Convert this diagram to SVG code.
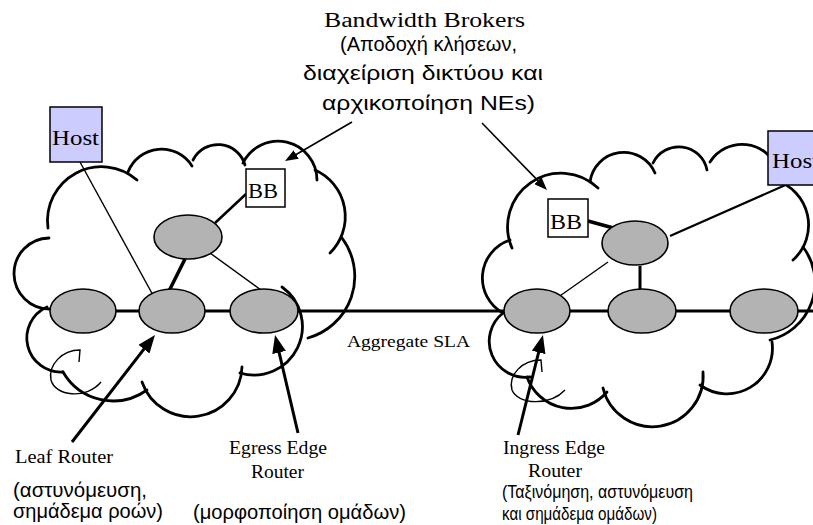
<svg xmlns="http://www.w3.org/2000/svg" width="813" height="525" viewBox="0 0 813 525">
<defs>
<style>
.cloud{fill:none;stroke:#000;stroke-width:2.8;stroke-linecap:round}
.curl{fill:none;stroke:#000;stroke-width:1.4}
.router{fill:#b3b3b3;stroke:#000;stroke-width:1.6}
.host{fill:#ccccff;stroke:#000;stroke-width:1.5}
.bb{fill:#fff;stroke:#000;stroke-width:1.5}
.ln{stroke:#000;fill:none}
.thin{stroke-width:1.4}
.thick{stroke-width:3}
.serif{font-family:"Liberation Serif","Times New Roman",serif;fill:#000}
.sans{font-family:"Liberation Sans",Arial,sans-serif;fill:#000}
</style>
<marker id="ahThin" viewBox="0 0 13 10" refX="8" refY="5" markerWidth="13" markerHeight="10" markerUnits="userSpaceOnUse" orient="auto">
<path d="M0,0 L13,5 L0,10 z" fill="#000"/>
</marker>
<marker id="ahThick" viewBox="0 0 18 14" refX="12" refY="7" markerWidth="18" markerHeight="14" markerUnits="userSpaceOnUse" orient="auto">
<path d="M0,0 L18,7 L0,14 z" fill="#000"/>
</marker>
</defs>
<rect width="813" height="525" fill="#fff"/>

<g id="cloud-left">
<path class="cloud" d="M50,309 A35,35 0 0,1 49,238"/>
<path class="cloud" d="M48,228 A54,54 0 0,1 137,180"/>
<path class="cloud" d="M128,172 A36,36 0 0,1 192,166"/>
<path class="cloud" d="M193,160 A28,28 0 0,1 245,165"/>
<path class="cloud" d="M243,163 A39,39 0 0,1 317,180"/>
<path class="cloud" d="M315,170 A51,51 0 0,1 330,253"/>
<path class="cloud" d="M342,238 A64,64 0 0,1 308,338"/>
<path class="cloud" d="M282,287 A48.5,48.5 0 0,1 240,373"/>
<path class="cloud" d="M242,367 A51.4,51.4 0 0,1 142,382"/>
<path class="cloud" d="M147,390 A58,58 0 0,1 63,372"/>
<path class="cloud" d="M63,372 A34,34 0 0,1 47,307"/>
<path class="curl" d="M79,362 L80,350 C62,350 48,365 51,380 C55,396 86,400 101,382"/>
</g>

<g id="cloud-right">
<path class="cloud" d="M503,313 A40,40 0 0,1 510,240"/>
<path class="cloud" d="M512,248 A53.5,53.5 0 0,1 598,188"/>
<path class="cloud" d="M590,182 A34,34 0 0,1 655,173"/>
<path class="cloud" d="M653,163 A28.7,28.7 0 0,1 707,170"/>
<path class="cloud" d="M710,162 A38,38 0 0,1 778,170"/>
<path class="cloud" d="M775,180 A47,47 0 0,1 793,260"/>
<path class="cloud" d="M803,247 A59,59 0 0,1 770,340"/>
<path class="cloud" d="M772,342 A45.5,45.5 0 0,1 700,385"/>
<path class="cloud" d="M703,372 A50.8,50.8 0 0,1 603,388"/>
<path class="cloud" d="M607,392 A47,47 0 0,1 527,377"/>
<path class="cloud" d="M530,377 A36,36 0 0,1 503,313"/>
<path class="curl" d="M542,372 L541,360 C522,360 508,375 512,390 C518,405 550,406 565,390"/>
</g>

<g id="connectors">
<line class="ln thick" x1="83" y1="311" x2="813" y2="311"/>
<line class="ln thin" x1="80" y1="162" x2="154" y2="297"/>
<line class="ln" stroke-width="3.5" x1="185" y1="259" x2="169" y2="291"/>
<line class="ln thin" x1="210" y1="253" x2="261" y2="290"/>
<line class="ln" stroke-width="2.5" x1="215" y1="223" x2="246" y2="194"/>
<line class="ln" stroke-width="3.5" x1="588" y1="221" x2="617" y2="229"/>
<line class="ln" stroke-width="2.2" x1="670" y1="236" x2="790" y2="183"/>
<line class="ln thin" x1="608" y1="262" x2="557" y2="298"/>
<line class="ln thick" x1="640" y1="266" x2="640" y2="290"/>
<line class="ln" stroke-width="1.6" x1="352" y1="122" x2="289.3" y2="158.5" marker-end="url(#ahThin)"/>
<line class="ln" stroke-width="1.6" x1="482" y1="123" x2="543.5" y2="186.4" marker-end="url(#ahThin)"/>
<line class="ln thick" x1="72" y1="442" x2="151.3" y2="339.7" marker-end="url(#ahThick)"/>
<line class="ln thick" x1="298" y1="433" x2="276.4" y2="340.8" marker-end="url(#ahThick)"/>
<line class="ln thick" x1="518" y1="435" x2="541.5" y2="340.8" marker-end="url(#ahThick)"/>
</g>

<g id="router-l-top"><ellipse class="router" cx="188" cy="237" rx="34" ry="22"/></g>
<g id="router-l-1"><ellipse class="router" cx="83" cy="311" rx="33" ry="22"/></g>
<g id="router-l-leaf"><ellipse class="router" cx="172" cy="311" rx="33" ry="22"/></g>
<g id="router-l-egress"><ellipse class="router" cx="264" cy="311" rx="34" ry="22"/></g>
<g id="router-r-top"><ellipse class="router" cx="635" cy="243" rx="33" ry="22"/></g>
<g id="router-r-ingress"><ellipse class="router" cx="537" cy="311" rx="33" ry="22"/></g>
<g id="router-r-2"><ellipse class="router" cx="642" cy="311" rx="34" ry="22"/></g>
<g id="router-r-3"><ellipse class="router" cx="764" cy="311" rx="34" ry="22"/></g>

<g id="host-left">
<rect class="host" x="50" y="107" width="52" height="55"/>
<text class="serif" x="52" y="145" font-size="20" textLength="47" lengthAdjust="spacingAndGlyphs">Host</text>
</g>
<g id="bb-left">
<rect class="bb" x="246" y="169" width="39" height="38"/>
<text class="serif" x="248" y="198" font-size="20" textLength="30" lengthAdjust="spacingAndGlyphs">BB</text>
</g>
<g id="bb-right">
<rect class="bb" x="548" y="199" width="40" height="38"/>
<text class="serif" x="550" y="229" font-size="20" textLength="32" lengthAdjust="spacingAndGlyphs">BB</text>
</g>
<g id="host-right">
<rect class="host" x="768" y="131" width="52" height="54"/>
<text class="serif" x="772" y="168" font-size="20" textLength="47" lengthAdjust="spacingAndGlyphs">Host</text>
</g>

<g id="label-bb">
<text class="serif" x="324" y="27" font-size="20" textLength="201" lengthAdjust="spacingAndGlyphs">Bandwidth Brokers</text>
<text class="sans" x="340" y="51" font-size="20" textLength="177" lengthAdjust="spacingAndGlyphs">(Αποδοχή κλήσεων,</text>
<text class="sans" x="303" y="80" font-size="20" textLength="240" lengthAdjust="spacingAndGlyphs">διαχείριση δικτύου και</text>
<text class="sans" x="322" y="110" font-size="20" textLength="213" lengthAdjust="spacingAndGlyphs">αρχικοποίηση NEs)</text>
</g>
<g id="label-sla">
<text class="serif" x="347" y="347" font-size="17" textLength="123" lengthAdjust="spacingAndGlyphs">Aggregate SLA</text>
</g>
<g id="label-leaf">
<text class="serif" x="15" y="463" font-size="18" textLength="98" lengthAdjust="spacingAndGlyphs">Leaf Router</text>
<text class="sans" x="13" y="497" font-size="20" textLength="134" lengthAdjust="spacingAndGlyphs">(αστυνόμευση,</text>
<text class="sans" x="13" y="518" font-size="20" textLength="150" lengthAdjust="spacingAndGlyphs">σημάδεμα ροών)</text>
</g>
<g id="label-egress">
<text class="serif" x="229" y="454" font-size="18" textLength="98" lengthAdjust="spacingAndGlyphs">Egress Edge</text>
<text class="serif" x="251" y="478" font-size="18" textLength="53" lengthAdjust="spacingAndGlyphs">Router</text>
<text class="sans" x="193" y="519" font-size="20" textLength="213" lengthAdjust="spacingAndGlyphs">(μορφοποίηση ομάδων)</text>
</g>
<g id="label-ingress">
<text class="serif" x="503" y="454" font-size="18" textLength="102" lengthAdjust="spacingAndGlyphs">Ingress Edge</text>
<text class="serif" x="528" y="477" font-size="18" textLength="54" lengthAdjust="spacingAndGlyphs">Router</text>
<text class="sans" x="502" y="498" font-size="18.5" textLength="191" lengthAdjust="spacingAndGlyphs">(Ταξινόμηση, αστυνόμευση</text>
<text class="sans" x="502" y="520" font-size="18.5" textLength="155" lengthAdjust="spacingAndGlyphs">και σημάδεμα ομάδων)</text>
</g>
</svg>
